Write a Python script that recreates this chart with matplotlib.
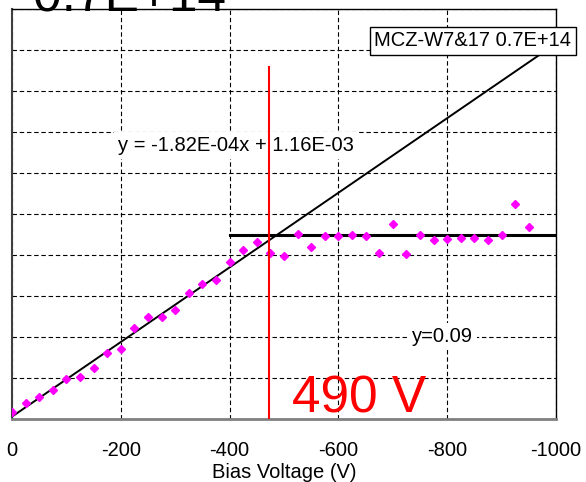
import matplotlib
matplotlib.use("Agg")
import matplotlib.pyplot as plt
import numpy as np

plt.rcParams['font.family'] = ['Liberation Sans', 'DejaVu Sans']
plt.rcParams['axes.unicode_minus'] = False

# measured points (bias voltage, value)
bias = [0, -25, -50, -75, -100, -125, -150, -175, -200, -225, -250, -275,
        -300, -325, -350, -375, -400, -425, -450, -475, -500, -525, -550,
        -575, -600, -625, -650, -675, -700, -725, -750, -775, -800, -825,
        -850, -875, -900, -925, -950]
values = [0.0036, 0.0077, 0.0107, 0.0143, 0.0194, 0.0206, 0.0247, 0.0320,
          0.0343, 0.0444, 0.0498, 0.0496, 0.0532, 0.0613, 0.0660, 0.0680,
          0.0764, 0.0822, 0.0865, 0.0811, 0.0797, 0.0904, 0.0841, 0.0891,
          0.0891, 0.0899, 0.0891, 0.0808, 0.0950, 0.0806, 0.0899, 0.0872,
          0.0880, 0.0884, 0.0884, 0.0872, 0.0899, 0.1047, 0.0935]

# linear fit and plateau
slope = -1.82e-4
intercept = 1.16e-3
fit_range = [0, -1000]
plateau = 0.09
plateau_range = [-400, -1000]
depletion_v = -473
depletion_top = 0.1717

xticks = [0, -200, -400, -600, -800, -1000]
xtick_labels = ["0", "-200", "-400", "-600", "-800", "-1000"]

fig = plt.figure(figsize=(5.86, 4.82), dpi=100)
ax = fig.add_axes([12 / 586, 1 - 419 / 482, 544 / 586, 410 / 482])

ax.grid(True, color='black', linestyle=(0, (4, 2.5)), linewidth=0.8)
ax.set_axisbelow(True)

fx = np.array(fit_range)
ax.plot(fx, slope * fx + intercept, color='black', lw=1.4, zorder=3)
ax.plot(plateau_range, [plateau, plateau], color='black', lw=2.2, zorder=3)
ax.plot(bias, values, linestyle='none', marker='D', ms=4.5,
        color='#ff00ff', zorder=4)
ax.plot([depletion_v, depletion_v], [0, depletion_top], color='red',
        lw=1.5, zorder=6)

ax.text(-195, 0.1307, "y = -1.82E-04x + 1.16E-03", fontsize=14.5,
        va='baseline', ha='left', zorder=5,
        bbox=dict(boxstyle='square,pad=0.2', fc='white', ec='none'))
ax.text(-735, 0.0376, "y=0.09", fontsize=14.5, va='baseline', ha='left',
        zorder=5, bbox=dict(boxstyle='square,pad=0.2', fc='white', ec='none'))
ax.text(-515, 0.0034, "490 V", fontsize=37, color='red', va='baseline',
        ha='left', zorder=7)

ax.set_xlim(0, -1000)
ax.set_ylim(0, 0.2)
ax.set_xticks(xticks)
ax.set_xticklabels(xtick_labels, fontsize=14.5)
ax.set_yticks(np.arange(0, 0.201, 0.02))
ax.set_yticklabels([])
ax.tick_params(length=0)
ax.tick_params(axis='x', pad=16)
ax.set_xlabel("Bias Voltage (V)", fontsize=14.5, labelpad=2)

ax.spines['left'].set_color('#404040')
ax.spines['left'].set_linewidth(1.5)
ax.spines['bottom'].set_color('#808080')
ax.spines['bottom'].set_linewidth(2)
ax.spines['top'].set_linewidth(1)
ax.spines['right'].set_linewidth(1)

fig.text(33 / 586, 1 - 11.5 / 482, "0.7E+14", fontsize=37, va='baseline',
         ha='left')
fig.text(473 / 586, 1 - 41 / 482, "MCZ-W7&17 0.7E+14", fontsize=14.5,
         va='center', ha='center', zorder=10,
         bbox=dict(boxstyle='square,pad=0.22', fc='white', ec='black', lw=1))

fig.savefig("out.png", dpi=100)
